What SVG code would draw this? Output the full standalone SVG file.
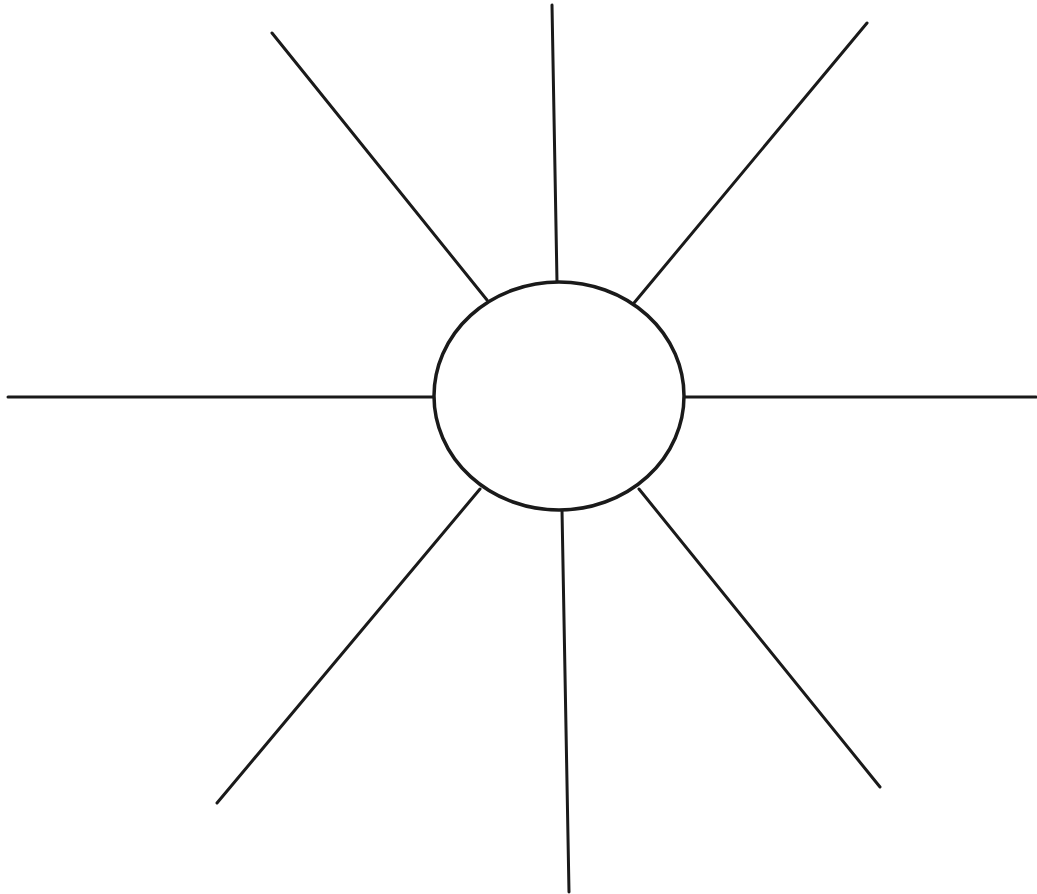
<svg xmlns="http://www.w3.org/2000/svg" width="1037" height="894" viewBox="0 0 1037 894">
<style>
.ray{stroke:#1a1a1a;stroke-width:3;stroke-linecap:round;fill:none}
.hub{stroke:#1a1a1a;stroke-width:3.5;fill:#fff}
</style>
<rect width="1037" height="894" fill="#fff"/>
<g id="connectors">
<line class="ray" x1="552" y1="5" x2="557" y2="282"/>
<line class="ray" x1="272" y1="33" x2="487" y2="300"/>
<line class="ray" x1="867" y1="23" x2="634" y2="303"/>
<line class="ray" x1="8" y1="397" x2="434" y2="397"/>
<line class="ray" x1="684" y1="397" x2="1036" y2="397"/>
<line class="ray" x1="480" y1="489" x2="217" y2="803"/>
<line class="ray" x1="562" y1="510" x2="569" y2="892"/>
<line class="ray" x1="639" y1="489" x2="880" y2="787"/>
</g>
<g id="center">
<ellipse class="hub" cx="559" cy="396" rx="125" ry="114"/>
</g>
</svg>
